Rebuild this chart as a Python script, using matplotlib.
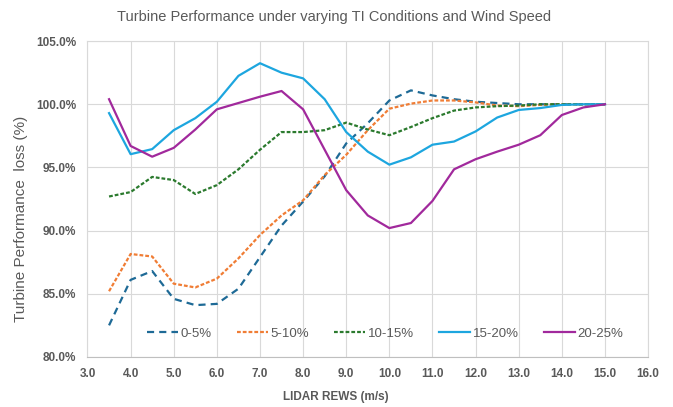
import matplotlib
matplotlib.use("Agg")
import matplotlib.pyplot as plt
import matplotlib.ticker as ticker

# vitesse de vent (m/s)
rews = [3.5, 4.0, 4.5, 5.0, 5.5, 6.0, 6.5, 7.0, 7.5, 8.0, 8.5, 9.0,
        9.5, 10.0, 10.5, 11.0, 11.5, 12.0, 12.5, 13.0, 13.5, 14.0, 14.5, 15.0]

ti_labels = ["0-5%", "5-10%", "10-15%", "15-20%", "20-25%"]

ti_0_5 = [82.5, 86.1, 86.8, 84.6, 84.1, 84.2, 85.4, 87.9, 90.4, 92.3, 94.3, 96.9,
          98.5, 100.3, 101.1, 100.7, 100.4, 100.2, 100.1, 100.0, 100.0, 100.0, 100.0, 100.0]
ti_5_10 = [85.2, 88.15, 87.95, 85.8, 85.5, 86.2, 87.8, 89.65, 91.2, 92.4, 94.4, 96.0,
           97.95, 99.65, 100.05, 100.3, 100.3, 100.15, 99.9, 99.85, 99.95, 100.0, 100.0, 100.0]
ti_10_15 = [92.7, 93.05, 94.25, 94.0, 92.9, 93.6, 94.85, 96.4, 97.8, 97.8, 97.95, 98.55,
            98.0, 97.55, 98.2, 98.9, 99.5, 99.75, 99.85, 99.9, 100.0, 100.0, 100.0, 100.0]
ti_15_20 = [99.3, 96.05, 96.45, 97.95, 98.9, 100.2, 102.25, 103.25, 102.5, 102.05, 100.4, 97.8,
            96.25, 95.22, 95.8, 96.8, 97.05, 97.85, 98.95, 99.55, 99.7, 99.95, 100.0, 100.0]
ti_20_25 = [100.4, 96.7, 95.85, 96.55, 98.0, 99.6, 100.1, 100.6, 101.05, 99.6, 96.4, 93.2,
            91.2, 90.2, 90.6, 92.35, 94.85, 95.65, 96.25, 96.8, 97.55, 99.15, 99.75, 100.0]

series = [ti_0_5, ti_5_10, ti_10_15, ti_15_20, ti_20_25]
colors = ["#1E6A96", "#F07D35", "#2B7A2E", "#1DA6DF", "#A1299C"]
dashes = [(3.2, 2.3), (1.7, 0.9), (1.7, 0.9), None, None]

gray = "#595959"
narrow = ["Liberation Sans Narrow", "Liberation Sans", "DejaVu Sans"]

fig = plt.figure(figsize=(6.73, 4.07), dpi=100)
ax = fig.add_axes([0.130, 0.123, 0.833, 0.776])

for vals, lab, col, d in zip(series, ti_labels, colors, dashes):
    line, = ax.plot(rews, vals, color=col, lw=1.6, label=lab)
    if d is not None:
        line.set_dashes(d)

ax.set_xlim(3.0, 16.0)
ax.set_ylim(80.0, 105.0)
ax.xaxis.set_major_locator(ticker.MultipleLocator(1.0))
ax.yaxis.set_major_locator(ticker.MultipleLocator(5.0))
ax.xaxis.set_major_formatter(ticker.FormatStrFormatter("%.1f"))
ax.yaxis.set_major_formatter(ticker.FuncFormatter(lambda v, p: f"{v:.1f}%"))

ax.grid(True, color="#D9D9D9", lw=0.8)
ax.set_axisbelow(True)
for s in ax.spines.values():
    s.set_color("#D9D9D9")
    s.set_linewidth(0.8)
ax.spines["bottom"].set_color("#BFBFBF")
ax.tick_params(length=0, pad=8, colors=gray)
for lbl in ax.get_xticklabels() + ax.get_yticklabels():
    lbl.set_family(narrow)
    lbl.set_fontweight("bold")
    lbl.set_fontsize(8.5)

fig.text(0.497, 0.958, "Turbine Performance under varying TI Conditions and Wind Speed",
         ha="center", va="center", color=gray, fontsize=10.5, family=narrow)
fig.text(0.499, 0.025, "LIDAR REWS (m/s)", ha="center", va="center",
         color=gray, fontsize=8.5, fontweight="bold", family=narrow)
fig.text(0.031, 0.463, "Turbine Performance  loss (%)", ha="center", va="center",
         rotation=90, color=gray, fontsize=11, family=narrow)

leg = ax.legend(loc="center", bbox_to_anchor=(0.531, 0.073), ncol=5, frameon=False,
                handlelength=2.35, columnspacing=1.9, handletextpad=0.2,
                prop={"family": narrow, "size": 9.5})
for t in leg.get_texts():
    t.set_color(gray)

fig.savefig("out.png", dpi=100)
plt.close()
